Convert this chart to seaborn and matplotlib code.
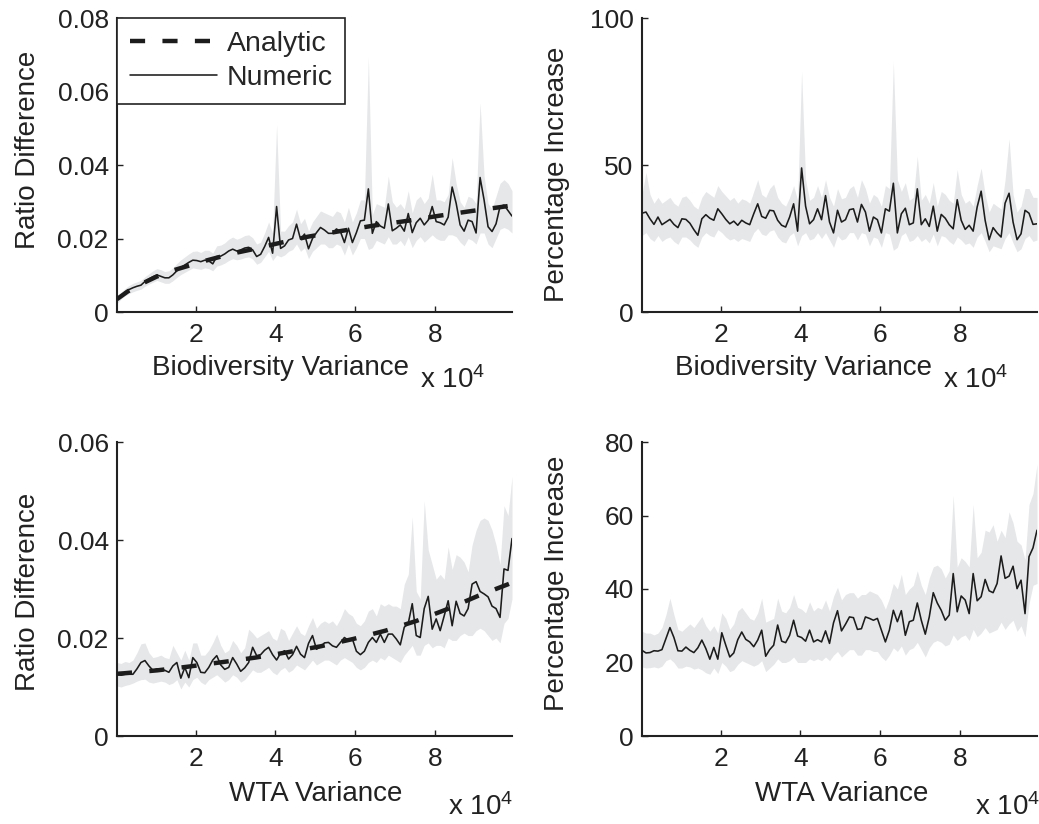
import numpy as np
import matplotlib
matplotlib.use("Agg")
import matplotlib.pyplot as plt
from matplotlib.lines import Line2D
from matplotlib.ticker import FixedLocator, FuncFormatter
import seaborn as sns

sns.set_style("ticks")
plt.rcParams['font.family'] = ['Liberation Sans', 'DejaVu Sans']
plt.rcParams['mathtext.fontset'] = 'custom'
plt.rcParams['mathtext.rm'] = 'Liberation Sans'
plt.rcParams['mathtext.default'] = 'regular'

# ---------------- data ----------------
# variance grid (100 simulated settings)
variance = np.arange(300, 100000, 1000)

# Top-left: Ratio Difference vs Biodiversity Variance (values in units of 1e-3)
tl_numeric = [3.3, 4.4, 5.4, 6.1, 6.6, 7.0, 7.3, 8.3, 9.0, 9.6,
              10.1, 9.7, 9.3, 9.3, 10.1, 11.2, 12.1, 12.8, 13.5, 14.1,
              14.0, 13.7, 14.1, 13.9, 13.1, 15.1, 15.2, 15.8, 16.6, 17.1,
              16.6, 16.9, 17.4, 17.6, 16.9, 15.1, 15.7, 17.8, 20.3, 16.0,
              28.7, 17.3, 18.0, 19.6, 20.0, 23.9, 19.8, 21.2, 17.2, 20.0,
              21.6, 23.0, 22.3, 21.4, 21.4, 22.6, 21.9, 18.9, 22.8, 18.9,
              21.6, 24.8, 25.0, 33.5, 21.4, 24.6, 23.4, 22.8, 29.4, 22.1,
              22.8, 23.7, 22.0, 26.8, 21.6, 24.3, 25.5, 23.7, 25.0, 28.7,
              24.6, 24.3, 23.7, 25.8, 34.0, 29.6, 23.7, 22.0, 25.0, 24.6,
              21.5, 36.6, 30.5, 23.2, 21.9, 24.0, 28.7, 29.1, 27.6, 26.1]
tl_upper = [4.3, 5.4, 6.4, 7.2, 7.8, 8.2, 8.6, 9.6, 10.4, 11.2,
            11.8, 11.5, 11.0, 11.2, 12.0, 13.2, 14.2, 15.0, 15.8, 16.5,
            16.6, 16.2, 16.8, 16.8, 16.0, 18.0, 18.2, 18.8, 19.8, 20.4,
            19.8, 20.2, 20.8, 21.0, 20.2, 18.5, 19.0, 21.5, 24.5, 21.5,
            51.0, 22.0, 22.0, 23.5, 24.5, 28.0, 24.0, 25.5, 22.0, 24.5,
            26.0, 27.5, 27.0, 26.5, 26.0, 27.5, 27.0, 24.5, 28.5, 24.5,
            27.0, 30.5, 30.5, 69.5, 26.5, 29.5, 29.0, 28.5, 37.0, 30.0,
            28.5, 29.5, 28.0, 33.0, 27.0, 30.5, 31.5, 29.5, 31.0, 37.5,
            30.5, 30.5, 30.0, 32.0, 42.0, 35.0, 30.0, 28.5, 31.5, 31.0,
            29.5, 57.0, 37.0, 29.5, 28.0, 31.5, 35.0, 36.0, 35.0, 33.0]
tl_lower = [2.3, 3.5, 4.4, 5.0, 5.5, 5.9, 6.2, 7.0, 7.6, 8.1,
            8.6, 8.2, 7.8, 7.8, 8.5, 9.4, 10.2, 10.8, 11.4, 12.0,
            11.8, 11.6, 12.0, 11.8, 11.2, 12.5, 12.8, 13.3, 14.0, 14.5,
            14.2, 14.4, 14.8, 15.0, 14.4, 13.0, 13.5, 15.0, 16.5, 14.0,
            15.5, 15.0, 15.5, 16.5, 17.0, 18.5, 16.5, 17.5, 14.5, 16.5,
            17.5, 18.5, 18.5, 17.5, 17.5, 18.5, 18.0, 15.5, 18.5, 15.5,
            17.5, 20.0, 20.0, 17.0, 17.5, 19.5, 19.0, 18.5, 20.5, 18.5,
            18.5, 19.5, 18.0, 20.5, 17.5, 19.5, 20.5, 19.0, 20.0, 21.0,
            20.0, 19.5, 19.5, 21.0, 21.0, 20.5, 19.0, 18.0, 20.0, 19.5,
            18.5, 21.5, 21.5, 18.5, 17.5, 20.0, 22.5, 23.0, 22.5, 21.5]
tl_analytic_x = [300, 3000, 6900, 10200, 14600, 18300, 22300, 26100, 30500, 34000,
                 40300, 48200, 56200, 64600, 73000, 81100, 89300, 97500, 99300]
tl_analytic = [3.5, 5.6, 7.9, 9.6, 11.4, 12.6, 13.9, 15.0, 16.2, 17.0,
               18.6, 20.5, 22.0, 23.5, 24.8, 26.2, 27.5, 28.7, 29.0]

# Top-right: Percentage Increase vs Biodiversity Variance
tr_numeric = [33.6, 34.0, 31.7, 29.8, 32.3, 29.7, 30.6, 31.5, 29.8, 28.7,
              31.7, 31.5, 30.2, 28.0, 26.1, 31.7, 33.1, 31.9, 31.2, 35.1,
              33.4, 31.5, 30.0, 30.9, 29.5, 31.2, 30.3, 29.7, 33.4, 36.8,
              32.5, 31.9, 34.6, 34.4, 31.2, 29.5, 28.9, 32.3, 36.8, 27.5,
              49.0, 36.0, 30.0, 31.4, 35.1, 31.4, 39.6, 30.6, 26.9, 34.6,
              30.6, 31.4, 34.8, 35.1, 30.6, 36.6, 34.0, 27.5, 32.3, 31.4,
              26.9, 35.1, 34.3, 43.8, 26.9, 33.4, 35.3, 29.7, 30.3, 41.9,
              29.7, 31.7, 29.1, 36.0, 27.5, 33.2, 31.9, 29.7, 28.3, 38.2,
              31.2, 28.1, 29.5, 27.5, 35.7, 41.1, 31.2, 24.6, 28.7, 26.9,
              25.5, 37.0, 40.4, 30.6, 24.6, 26.6, 34.6, 33.6, 29.8, 30.0]
tr_upper = [40.0, 47.5, 40.0, 37.0, 39.0, 37.0, 38.0, 39.0, 37.0, 36.0,
            39.0, 39.5, 38.0, 36.0, 35.0, 39.0, 41.0, 40.0, 39.0, 43.0,
            41.0, 39.5, 38.0, 39.0, 37.0, 38.5, 38.0, 37.0, 41.0, 45.0,
            40.0, 39.0, 42.0, 43.5, 39.0, 37.0, 36.0, 39.0, 43.0, 38.0,
            82.0, 45.0, 38.0, 39.0, 43.0, 39.0, 45.0, 39.0, 36.0, 42.0,
            38.5, 39.0, 42.0, 43.0, 39.0, 45.0, 42.0, 37.0, 40.0, 39.0,
            36.0, 43.0, 42.0, 85.0, 45.0, 41.0, 44.0, 38.0, 39.0, 53.0,
            38.0, 40.0, 37.0, 44.0, 36.0, 41.0, 40.0, 38.0, 37.0, 48.5,
            40.0, 37.0, 38.0, 36.0, 43.0, 49.0, 40.0, 34.0, 37.0, 36.0,
            35.0, 45.0, 59.0, 40.0, 34.0, 36.0, 42.0, 42.0, 39.0, 39.0]
tr_lower = [26.0, 27.0, 25.0, 24.0, 26.0, 24.0, 25.0, 25.5, 24.0, 23.0,
            25.5, 25.5, 24.5, 23.0, 22.0, 25.5, 27.0, 26.0, 25.5, 28.0,
            27.0, 25.5, 24.5, 25.0, 24.0, 25.0, 24.5, 24.0, 27.0, 28.5,
            26.5, 26.0, 27.5, 28.0, 25.5, 24.0, 23.5, 26.0, 27.0, 22.5,
            26.0, 27.0, 24.5, 25.0, 27.0, 25.0, 27.0, 24.5, 22.0, 26.0,
            24.5, 25.0, 27.0, 27.0, 24.5, 27.0, 26.5, 22.5, 25.5, 25.0,
            22.0, 27.0, 26.5, 21.0, 22.0, 26.0, 27.0, 24.0, 24.5, 26.0,
            24.0, 25.0, 23.5, 26.5, 22.5, 26.0, 25.5, 24.0, 23.0, 25.5,
            24.5, 23.0, 23.5, 22.0, 25.5, 27.0, 24.0, 20.5, 22.5, 22.0,
            21.5, 25.0, 27.0, 23.5, 20.5, 21.5, 25.0, 26.0, 24.0, 24.5]

# Bottom-left: Ratio Difference vs WTA Variance (values in units of 1e-3)
bl_numeric = [12.6, 12.4, 12.6, 12.6, 12.6, 13.7, 15.0, 15.4, 14.3, 13.4,
              13.7, 13.7, 13.4, 13.0, 14.3, 15.0, 11.8, 14.0, 11.9, 16.0,
              15.0, 13.0, 12.9, 14.0, 15.5, 16.4, 14.5, 13.6, 14.0, 16.0,
              14.7, 13.2, 13.9, 15.0, 18.1, 16.4, 16.6, 17.5, 18.1, 16.6,
              15.5, 16.9, 17.4, 15.7, 16.6, 18.3, 16.7, 16.0, 18.9, 20.5,
              17.7, 18.2, 19.0, 19.1, 18.4, 18.1, 19.1, 20.1, 19.5, 19.8,
              17.3, 16.6, 17.3, 19.1, 20.1, 19.1, 20.8, 19.1, 20.8, 20.8,
              19.8, 18.6, 22.2, 23.0, 27.0, 20.5, 20.1, 26.0, 28.5, 21.8,
              23.9, 21.5, 24.5, 27.6, 22.5, 27.5, 25.0, 24.5, 26.0, 31.0,
              31.5, 29.5, 29.0, 28.4, 26.5, 26.0, 24.2, 34.1, 33.8, 40.3]
bl_upper = [15.0, 14.8, 15.2, 15.0, 15.5, 17.0, 18.8, 19.0, 17.0, 16.0,
            16.2, 16.5, 16.0, 15.8, 18.5, 17.0, 15.5, 17.5, 15.5, 19.0,
            19.0, 16.5, 16.5, 17.5, 19.0, 20.8, 18.5, 17.0, 17.5, 19.5,
            18.5, 17.0, 18.0, 21.8, 21.0, 20.0, 20.5, 21.0, 21.5, 20.0,
            19.5, 22.0, 21.5, 19.5, 21.0, 22.5, 21.0, 20.5, 22.5, 24.2,
            22.0, 23.0, 23.5, 23.0, 23.5, 22.5, 24.0, 26.0, 25.0, 24.5,
            23.0, 22.5, 23.5, 25.5, 26.0, 24.5, 27.0, 26.5, 27.0, 26.5,
            26.5, 26.0, 31.0, 33.0, 44.7, 29.5, 28.0, 48.0, 38.0, 35.0,
            32.0, 33.0, 32.0, 38.6, 34.0, 37.0, 36.5, 35.5, 33.5, 39.0,
            42.0, 44.0, 44.5, 44.0, 42.0, 39.0, 35.0, 47.0, 45.0, 53.0]
bl_lower = [10.2, 10.0, 10.3, 10.5, 10.8, 11.2, 11.5, 11.6, 11.0, 10.8,
            11.0, 11.2, 11.0, 10.5, 10.8, 11.5, 9.6, 11.0, 10.0, 11.5,
            12.0, 11.0, 10.5, 11.5, 12.0, 12.5, 11.8, 11.0, 11.5, 12.5,
            12.0, 11.0, 11.5, 12.5, 13.5, 13.0, 13.0, 13.5, 14.0, 13.0,
            12.5, 13.5, 14.0, 13.0, 13.5, 14.5, 14.0, 13.5, 14.5, 15.5,
            14.5, 15.0, 15.5, 15.5, 15.0, 14.5, 15.5, 16.0, 15.5, 15.0,
            14.0, 13.5, 14.0, 15.0, 15.5, 15.0, 16.0, 15.5, 16.5, 16.0,
            15.5, 15.0, 16.5, 17.5, 18.5, 16.5, 16.5, 18.5, 19.0, 18.0,
            18.5, 18.5, 18.0, 20.0, 19.5, 19.5, 20.5, 21.0, 20.5, 20.5,
            21.5, 22.0, 21.5, 20.5, 19.5, 20.0, 19.0, 23.0, 24.0, 28.0]
bl_analytic_x = [300, 2000, 10400, 18600, 26900, 35000, 43100, 51300, 59500,
                 67600, 75400, 83100, 90800, 98100, 99300]
bl_analytic = [12.7, 12.8, 13.4, 14.2, 15.1, 16.0, 17.1, 18.3, 19.8,
               21.5, 23.5, 25.9, 28.6, 30.9, 31.3]

# Bottom-right: Percentage Increase vs WTA Variance
br_numeric = [23.3, 22.6, 22.7, 23.2, 23.1, 23.5, 26.5, 29.5, 26.8, 23.2,
              23.1, 24.2, 23.3, 22.7, 24.0, 26.1, 23.8, 20.9, 24.1, 20.9,
              28.1, 24.7, 21.5, 22.6, 26.2, 28.3, 26.3, 25.6, 24.3, 26.1,
              28.8, 21.7, 23.5, 24.7, 30.2, 25.8, 25.4, 27.4, 31.5, 27.2,
              26.8, 25.8, 28.8, 25.6, 26.2, 25.6, 28.6, 25.2, 30.8, 34.1,
              28.6, 30.4, 32.4, 32.2, 29.0, 29.2, 32.4, 32.0, 31.5, 32.0,
              28.8, 25.6, 28.8, 34.2, 31.1, 34.1, 27.4, 31.1, 31.5, 36.2,
              31.5, 27.7, 32.4, 39.0, 36.2, 34.2, 31.5, 32.9, 44.2, 33.8,
              38.1, 37.0, 33.3, 44.2, 36.8, 37.9, 42.6, 39.5, 39.0, 41.5,
              49.0, 42.9, 43.5, 46.2, 40.1, 42.4, 33.3, 48.8, 51.2, 56.0]
br_upper = [28.5, 28.0, 28.0, 27.5, 28.0, 29.5, 33.0, 37.5, 33.0, 29.0,
            28.5, 29.5, 30.5, 29.5, 31.0, 32.5, 30.0, 28.5, 30.0, 28.0,
            33.5, 32.0, 29.0, 30.5, 34.0, 35.0, 33.5, 32.0, 31.5, 33.5,
            37.5, 31.0, 31.5, 32.0, 37.5, 34.0, 33.5, 35.0, 38.5, 35.0,
            34.5, 33.5, 36.5, 34.0, 35.0, 34.5, 37.0, 34.0, 38.0, 40.5,
            37.0, 38.5, 39.0, 39.0, 37.5, 38.5, 38.5, 39.5, 39.0, 38.5,
            37.0, 34.5, 37.5, 41.5, 40.0, 44.0, 38.5, 40.0, 41.0, 45.0,
            41.0, 38.5, 43.0, 46.0, 46.5, 45.5, 43.0, 45.0, 65.5, 46.0,
            48.5, 47.5, 46.0, 63.0, 48.5, 50.0, 56.0, 55.5, 57.5, 53.0,
            56.0, 54.0, 61.0, 58.0, 53.0, 52.0, 48.0, 63.0, 66.0, 74.0]
br_lower = [18.8, 18.5, 18.6, 18.8, 18.5, 19.0, 20.5, 21.0, 20.0, 18.5,
            18.5, 19.0, 18.8, 18.2, 18.5, 18.0, 17.2, 16.8, 18.5, 17.0,
            20.0, 19.0, 17.5, 18.0, 19.5, 20.5, 20.0, 19.5, 19.0, 19.5,
            20.5, 17.5, 18.5, 19.5, 21.0, 20.0, 20.0, 20.5, 21.5, 20.0,
            20.0, 20.0, 21.0, 20.5, 21.0, 20.5, 21.5, 20.5, 22.0, 23.0,
            21.5, 22.5, 23.5, 23.5, 22.0, 22.0, 23.5, 23.5, 23.0, 23.0,
            21.5, 20.5, 22.0, 24.0, 23.0, 24.5, 22.0, 23.5, 24.0, 25.5,
            23.5, 21.5, 24.0, 25.5, 26.0, 25.5, 24.5, 25.0, 27.5, 26.0,
            27.0, 27.5, 26.0, 29.0, 27.0, 28.0, 29.5, 28.0, 28.5, 29.0,
            31.0, 29.0, 30.5, 31.5, 28.5, 30.0, 27.0, 36.0, 41.0, 41.5]

x_ticks = [20000, 40000, 60000, 80000]

# ---------------- styling ----------------
W, H = 1039, 824
BAND = '#e6e7e9'
INK = '#1c1c1c'
FS_TICK = 19
FS_LAB = 20
FS_LEG = 20.5

fig = plt.figure(figsize=(W / 100, H / 100), dpi=100)


def add_ax(x0, y0, x1, y1):
    return fig.add_axes([x0 / W, 1 - y1 / H, (x1 - x0) / W, (y1 - y0) / H])


def draw_panel(ax, numeric, upper, lower, scale, ylim, yticks, ylabel, xlabel,
               ylab_pos, xlab_pos, analytic_x=None, analytic=None):
    num = np.asarray(numeric) * scale
    up = np.asarray(upper) * scale
    lo = np.asarray(lower) * scale
    ax.fill_between(variance, lo, up, color=BAND, linewidth=0, zorder=1)
    if analytic is not None:
        sns.lineplot(x=analytic_x, y=np.asarray(analytic) * scale, ax=ax,
                     color=INK, linewidth=3.2, estimator=None, sort=False,
                     zorder=3)
        ax.lines[-1].set_linestyle((0, (3.4, 3.9)))
        ax.lines[-1].set_dash_capstyle('butt')
    sns.lineplot(x=variance, y=num, ax=ax, color=INK, linewidth=1.15,
                 estimator=None, sort=False, zorder=4)
    ax.set_xlim(variance[0], variance[-1])
    ax.set_ylim(*ylim)
    ax.xaxis.set_major_locator(FixedLocator(x_ticks))
    ax.xaxis.set_major_formatter(FuncFormatter(lambda v, p: f"{v / 1e4:g}"))
    ax.yaxis.set_major_locator(FixedLocator(yticks))
    ax.yaxis.set_major_formatter(FuncFormatter(lambda v, p: f"{v:g}"))
    sns.despine(ax=ax)
    for s in ('left', 'bottom'):
        ax.spines[s].set_linewidth(1.5)
        ax.spines[s].set_color('#222222')
    ax.tick_params(direction='in', length=4, width=1, colors='#222222',
                   labelsize=FS_TICK, labelcolor='#222222')
    ax.tick_params(axis='x', pad=8)
    ax.tick_params(axis='y', pad=6)
    ax.set_ylabel(ylabel, fontsize=FS_LAB, color='#222222')
    ax.set_xlabel(xlabel, fontsize=FS_LAB, color='#222222')
    ax.yaxis.set_label_coords(*ylab_pos)
    ax.xaxis.set_label_coords(*xlab_pos)
    ax.xaxis.label.set_va('center')
    ax.yaxis.label.set_va('center')


ax_tl = add_ax(117, 18, 512, 312)
ax_tr = add_ax(642, 18, 1037, 312)
ax_bl = add_ax(117, 442, 512, 736)
ax_br = add_ax(642, 442, 1037, 736)

draw_panel(ax_tl, tl_numeric, tl_upper, tl_lower, 1e-3, (0, 0.08),
           [0, 0.02, 0.04, 0.06, 0.08], 'Ratio Difference', 'Biodiversity Variance',
           (-0.225, 0.55), (0.413, -0.19), tl_analytic_x, tl_analytic)
draw_panel(ax_tr, tr_numeric, tr_upper, tr_lower, 1.0, (0, 100),
           [0, 50, 100], 'Percentage Increase', 'Biodiversity Variance',
           (-0.215, 0.47), (0.408, -0.19))
draw_panel(ax_bl, bl_numeric, bl_upper, bl_lower, 1e-3, (0, 0.06),
           [0, 0.02, 0.04, 0.06], 'Ratio Difference', 'WTA Variance',
           (-0.225, 0.49), (0.504, -0.197), bl_analytic_x, bl_analytic)
draw_panel(ax_br, br_numeric, br_upper, br_lower, 1.0, (0, 80),
           [0, 20, 40, 60, 80], 'Percentage Increase', 'WTA Variance',
           (-0.215, 0.52), (0.506, -0.197))

# legend in top-left panel
handles = [Line2D([], [], color=INK, linewidth=3.2, linestyle=(0, (3.4, 3.9))),
           Line2D([], [], color=INK, linewidth=1.15)]
leg = ax_tl.legend(handles, ['Analytic', 'Numeric'], loc='upper left',
                   bbox_to_anchor=(0, 1), borderaxespad=0, frameon=True,
                   fancybox=False, edgecolor='#222222', framealpha=1,
                   fontsize=FS_LEG, handlelength=3.05, handletextpad=0.35,
                   borderpad=0.45, labelspacing=0.3)
leg.get_frame().set_linewidth(1.2)

# axis multipliers
for (xl, yc) in [(420, 380), (943, 380), (448, 807), (975, 807)]:
    fig.text(xl / W, 1 - yc / H, r'x 10$^{4}$', fontsize=FS_LAB, color='#222222',
             ha='left', va='center')

fig.savefig('out.png', dpi=100)
